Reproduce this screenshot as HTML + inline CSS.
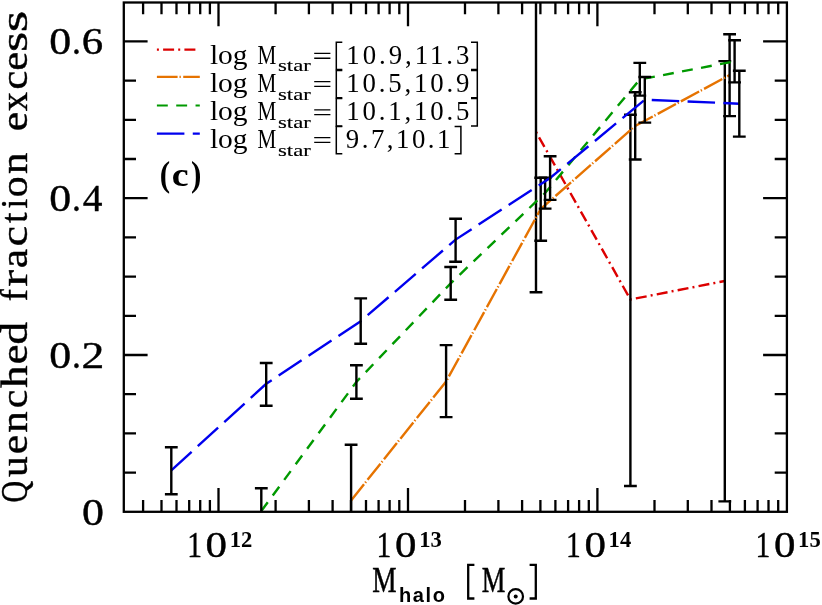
<!DOCTYPE html>
<html><head><meta charset="utf-8"><title>chart</title>
<style>html,body{margin:0;padding:0;background:#fff}svg{display:block;will-change:transform}text{font-family:"Liberation Serif",serif;fill:#000}.sb{font-family:"Liberation Sans",sans-serif;font-weight:bold}</style></head>
<body>
<svg width="822" height="605" viewBox="0 0 822 605">
<rect width="822" height="605" fill="#fff"/>
<path d="M143.1 511.8v-11.8M143.1 2.5v11.8M161.5 511.8v-11.8M161.5 2.5v11.8M176.5 511.8v-11.8M176.5 2.5v11.8M189.2 511.8v-11.8M189.2 2.5v11.8M200.2 511.8v-11.8M200.2 2.5v11.8M209.9 511.8v-11.8M209.9 2.5v11.8M218.5 511.8v-23.8M218.5 2.5v23.8M275.6 511.8v-11.8M275.6 2.5v11.8M308.9 511.8v-11.8M308.9 2.5v11.8M332.6 511.8v-11.8M332.6 2.5v11.8M351.0 511.8v-11.8M351.0 2.5v11.8M366.0 511.8v-11.8M366.0 2.5v11.8M378.6 511.8v-11.8M378.6 2.5v11.8M389.6 511.8v-11.8M389.6 2.5v11.8M399.3 511.8v-11.8M399.3 2.5v11.8M408.0 511.8v-23.8M408.0 2.5v23.8M465.0 511.8v-11.8M465.0 2.5v11.8M498.4 511.8v-11.8M498.4 2.5v11.8M522.1 511.8v-11.8M522.1 2.5v11.8M540.4 511.8v-11.8M540.4 2.5v11.8M555.4 511.8v-11.8M555.4 2.5v11.8M568.1 511.8v-11.8M568.1 2.5v11.8M579.1 511.8v-11.8M579.1 2.5v11.8M588.8 511.8v-11.8M588.8 2.5v11.8M597.4 511.8v-23.8M597.4 2.5v23.8M654.5 511.8v-11.8M654.5 2.5v11.8M687.8 511.8v-11.8M687.8 2.5v11.8M711.5 511.8v-11.8M711.5 2.5v11.8M729.9 511.8v-11.8M729.9 2.5v11.8M744.9 511.8v-11.8M744.9 2.5v11.8M757.6 511.8v-11.8M757.6 2.5v11.8M768.5 511.8v-11.8M768.5 2.5v11.8M778.2 511.8v-11.8M778.2 2.5v11.8M123.8 472.6h12.2M786.9 472.6h-12.2M123.8 433.4h12.2M786.9 433.4h-12.2M123.8 394.2h12.2M786.9 394.2h-12.2M123.8 355.0h23.8M786.9 355.0h-23.8M123.8 315.8h12.2M786.9 315.8h-12.2M123.8 276.6h12.2M786.9 276.6h-12.2M123.8 237.4h12.2M786.9 237.4h-12.2M123.8 198.2h23.8M786.9 198.2h-23.8M123.8 159.0h12.2M786.9 159.0h-12.2M123.8 119.8h12.2M786.9 119.8h-12.2M123.8 80.6h12.2M786.9 80.6h-12.2M123.8 41.4h23.8M786.9 41.4h-23.8" stroke="#000" stroke-width="2.3" fill="none"/>
<polyline points="536,131.9 630.4,299.5 724.8,281" stroke="#dc0000" stroke-width="2.4" stroke-dasharray="2 4.2 11 4.1" stroke-dashoffset="0" fill="none"/>
<path d="M536 2.5V292.2M529.6 292.2h12.8M630.4 114.7V486M624.0 114.7h12.8M624.0 486h12.8M724.8 61.1V501.4M718.4 61.1h12.8M718.4 501.4h12.8" stroke="#000" stroke-width="2.4" fill="none"/>
<polyline points="351.1,500.4 446.1,381.5 540.7,209 635.2,126 729.6,75.1" stroke="#e67300" stroke-width="2.4" stroke-dasharray="20.7 1.9 1.3 2.43" stroke-dashoffset="0" fill="none"/>
<path d="M351.1 444.8V511.8M344.7 444.8h12.8M446.1 345.1V417.1M439.7 345.1h12.8M439.7 417.1h12.8M540.7 177.7V240.8M534.3 177.7h12.8M534.3 240.8h12.8M635.2 92.3V159.5M628.8 92.3h12.8M628.8 159.5h12.8M729.6 34.2V116.1M723.2 34.2h12.8M723.2 116.1h12.8" stroke="#000" stroke-width="2.4" fill="none"/>
<polyline points="261.3,511 356.4,381.9 450.7,283.3 545.1,193 639.8,79.5 734.6,61.4" stroke="#009900" stroke-width="2.4" stroke-dasharray="10.9 8.42" stroke-dashoffset="0" fill="none"/>
<path d="M261.3 488.2V511.8M254.9 488.2h12.8M356.4 365.2V398.8M350.0 365.2h12.8M350.0 398.8h12.8M450.7 267V299.7M444.3 267h12.8M444.3 299.7h12.8M545.1 177.7V208.6M538.7 177.7h12.8M538.7 208.6h12.8M639.8 62.9V95.6M633.4 62.9h12.8M633.4 95.6h12.8M734.6 40.3V82.4M728.2 40.3h12.8M728.2 82.4h12.8" stroke="#000" stroke-width="2.4" fill="none"/>
<polyline points="171.3,470.4 266.2,383.8 360.7,321.2 455.6,239.6 550.1,178 644.8,99.7 739.3,103.7" stroke="#0000ee" stroke-width="2.4" stroke-dasharray="27.5 8.36" stroke-dashoffset="0" fill="none"/>
<path d="M171.3 447.3V494.3M164.9 447.3h12.8M164.9 494.3h12.8M266.2 363V405.8M259.8 363h12.8M259.8 405.8h12.8M360.7 298.4V343.7M354.3 298.4h12.8M354.3 343.7h12.8M455.6 218.7V261.7M449.2 218.7h12.8M449.2 261.7h12.8M550.1 156.2V199.9M543.7 156.2h12.8M543.7 199.9h12.8M644.8 77V122.6M638.4 77h12.8M638.4 122.6h12.8M739.3 70.7V136.6M732.9 70.7h12.8M732.9 136.6h12.8" stroke="#000" stroke-width="2.4" fill="none"/>
<rect x="123.8" y="2.5" width="663.1" height="509.3" stroke="#000" stroke-width="2.3" fill="none"/>
<path d="M156.9 49.6H198" stroke="#dc0000" stroke-width="2.2" stroke-dasharray="2 4.2 11 4.1" fill="none"/>
<path d="M156.9 76.8H199.8" stroke="#e67300" stroke-width="2.2" stroke-dasharray="20.7 1.9 1.3 2.43" fill="none"/>
<path d="M156.9 105.5H199.8" stroke="#009900" stroke-width="2.2" stroke-dasharray="10.9 8.42" fill="none"/>
<path d="M156.9 133.7H199.8" stroke="#0000ee" stroke-width="2.2" stroke-dasharray="27.5 8.36" fill="none"/>
<text x="209.9" y="63.8" font-size="26.5" textLength="37.7" lengthAdjust="spacingAndGlyphs">log</text>
<text x="257.6" y="63.8" font-size="26.5" textLength="18.8" lengthAdjust="spacingAndGlyphs">M</text>
<text x="278" y="71.39999999999999" font-size="16.7" stroke="#000" stroke-width="0.15" textLength="32.8" lengthAdjust="spacingAndGlyphs">star</text>
<path d="M314.2 53.4h16.2M314.2 58.199999999999996h16.2" stroke="#000" stroke-width="1.35" fill="none"/>
<path d="M342.3 42.199999999999996h-6v27.4h6M471 42.199999999999996h6.3v27.4h-6.3" stroke="#000" stroke-width="1.5" fill="none"/>
<text x="346.3" y="63.8" font-size="26.8" textLength="123.1" lengthAdjust="spacing">10.9,11.3</text>
<text x="209.9" y="92.0" font-size="26.5" textLength="37.7" lengthAdjust="spacingAndGlyphs">log</text>
<text x="257.6" y="92.0" font-size="26.5" textLength="18.8" lengthAdjust="spacingAndGlyphs">M</text>
<text x="278" y="99.6" font-size="16.7" stroke="#000" stroke-width="0.15" textLength="32.8" lengthAdjust="spacingAndGlyphs">star</text>
<path d="M314.2 81.6h16.2M314.2 86.4h16.2" stroke="#000" stroke-width="1.35" fill="none"/>
<path d="M342.3 70.4h-6v27.4h6M471 70.4h6.3v27.4h-6.3" stroke="#000" stroke-width="1.5" fill="none"/>
<text x="346.3" y="92.0" font-size="26.8" textLength="123.1" lengthAdjust="spacing">10.5,10.9</text>
<text x="209.9" y="120.2" font-size="26.5" textLength="37.7" lengthAdjust="spacingAndGlyphs">log</text>
<text x="257.6" y="120.2" font-size="26.5" textLength="18.8" lengthAdjust="spacingAndGlyphs">M</text>
<text x="278" y="127.8" font-size="16.7" stroke="#000" stroke-width="0.15" textLength="32.8" lengthAdjust="spacingAndGlyphs">star</text>
<path d="M314.2 109.8h16.2M314.2 114.60000000000001h16.2" stroke="#000" stroke-width="1.35" fill="none"/>
<path d="M342.3 98.6h-6v27.4h6M471 98.6h6.3v27.4h-6.3" stroke="#000" stroke-width="1.5" fill="none"/>
<text x="346.3" y="120.2" font-size="26.8" textLength="123.1" lengthAdjust="spacing">10.1,10.5</text>
<text x="209.9" y="148.0" font-size="26.5" textLength="37.7" lengthAdjust="spacingAndGlyphs">log</text>
<text x="257.6" y="148.0" font-size="26.5" textLength="18.8" lengthAdjust="spacingAndGlyphs">M</text>
<text x="278" y="155.6" font-size="16.7" stroke="#000" stroke-width="0.15" textLength="32.8" lengthAdjust="spacingAndGlyphs">star</text>
<path d="M314.2 137.6h16.2M314.2 142.4h16.2" stroke="#000" stroke-width="1.35" fill="none"/>
<path d="M342.3 126.4h-6v27.4h6M454.6 126.4h6.3v27.4h-6.3" stroke="#000" stroke-width="1.5" fill="none"/>
<text x="345.8" y="148.0" font-size="26.8" textLength="104.6" lengthAdjust="spacing">9.7,10.1</text>
<text transform="translate(161.20 185.6) scale(0.890 1)" x="-1.54" font-size="35" font-weight="bold">(</text>
<text transform="translate(173.10 186.3) scale(1.150 1)" x="-1.13" font-size="33" font-weight="bold">c</text>
<text transform="translate(191.90 185.6) scale(0.890 1)" x="-1.13" font-size="35" font-weight="bold">)</text>
<text transform="translate(51.00 54.4) scale(1.186 1)" x="-1.41" font-size="37" stroke="#000" stroke-width="0.4">0</text>
<text transform="translate(74.30 54.4) scale(0.961 1)" x="-2.44" font-size="37" stroke="#000" stroke-width="0.4">.</text>
<text transform="translate(83.60 54.4) scale(1.158 1)" x="-1.59" font-size="37" stroke="#000" stroke-width="0.4">6</text>
<text transform="translate(51.00 211.2) scale(1.186 1)" x="-1.41" font-size="37" stroke="#000" stroke-width="0.4">0</text>
<text transform="translate(74.30 211.2) scale(0.961 1)" x="-2.44" font-size="37" stroke="#000" stroke-width="0.4">.</text>
<text transform="translate(83.60 211.2) scale(1.064 1)" x="-0.72" font-size="37" stroke="#000" stroke-width="0.4">4</text>
<text transform="translate(51.00 368.0) scale(1.186 1)" x="-1.41" font-size="37" stroke="#000" stroke-width="0.4">0</text>
<text transform="translate(74.30 368.0) scale(0.961 1)" x="-2.44" font-size="37" stroke="#000" stroke-width="0.4">.</text>
<text transform="translate(83.60 368.0) scale(1.234 1)" x="-1.63" font-size="37" stroke="#000" stroke-width="0.4">2</text>
<text transform="translate(83.60 524.8) scale(1.186 1)" x="-1.41" font-size="37" stroke="#000" stroke-width="0.4">0</text>
<text transform="translate(189.73 557.2) scale(0.805 1)" x="-3.23" font-size="36.7" stroke="#000" stroke-width="0.4">1</text>
<text transform="translate(207.23 557.2) scale(1.170 1)" x="-1.40" font-size="36.7" stroke="#000" stroke-width="0.4">0</text>
<text x="229.7" y="547" font-size="23.5" font-weight="bold" textLength="22.6" lengthAdjust="spacingAndGlyphs">12</text>
<text transform="translate(379.19 557.2) scale(0.805 1)" x="-3.23" font-size="36.7" stroke="#000" stroke-width="0.4">1</text>
<text transform="translate(396.69 557.2) scale(1.170 1)" x="-1.40" font-size="36.7" stroke="#000" stroke-width="0.4">0</text>
<text x="419.2" y="547" font-size="23.5" font-weight="bold" textLength="22.6" lengthAdjust="spacingAndGlyphs">13</text>
<text transform="translate(568.64 557.2) scale(0.805 1)" x="-3.23" font-size="36.7" stroke="#000" stroke-width="0.4">1</text>
<text transform="translate(586.14 557.2) scale(1.170 1)" x="-1.40" font-size="36.7" stroke="#000" stroke-width="0.4">0</text>
<text x="608.6" y="547" font-size="23.5" font-weight="bold" textLength="22.6" lengthAdjust="spacingAndGlyphs">14</text>
<text transform="translate(758.10 557.2) scale(0.805 1)" x="-3.23" font-size="36.7" stroke="#000" stroke-width="0.4">1</text>
<text transform="translate(775.60 557.2) scale(1.170 1)" x="-1.40" font-size="36.7" stroke="#000" stroke-width="0.4">0</text>
<text x="798.1" y="547" font-size="23.5" font-weight="bold" textLength="22.6" lengthAdjust="spacingAndGlyphs">15</text>
<text x="372.2" y="592.3" font-size="35.6" stroke="#000" stroke-width="0.5" textLength="24.3" lengthAdjust="spacingAndGlyphs">M</text>
<text class="sb" x="399" y="602" font-size="20" textLength="46" lengthAdjust="spacing">halo</text>
<path d="M474.4 564.9h-6.2v33.6h6.2M529.6 564.9h6.2v33.6h-6.2" stroke="#000" stroke-width="2.3" fill="none"/>
<text x="481.7" y="592.3" font-size="35.6" stroke="#000" stroke-width="0.5" textLength="23.6" lengthAdjust="spacingAndGlyphs">M</text>
<circle cx="515.7" cy="596.4" r="7.3" stroke="#000" stroke-width="2.2" fill="none"/><circle cx="515.7" cy="596.4" r="2" fill="#000"/>
<text transform="translate(26.8 501.2) rotate(-90) scale(0.789 1)" x="-1.56" font-size="38" stroke="#000" stroke-width="0.4">Q</text>
<text transform="translate(26.8 476.4) rotate(-90) scale(1.087 1)" x="-0.50" font-size="38" stroke="#000" stroke-width="0.4">u</text>
<text transform="translate(26.8 452.6) rotate(-90) scale(1.166 1)" x="-1.48" font-size="38" stroke="#000" stroke-width="0.4">e</text>
<text transform="translate(26.8 431.7) rotate(-90) scale(1.128 1)" x="-0.87" font-size="38" stroke="#000" stroke-width="0.4">n</text>
<text transform="translate(26.8 406.7) rotate(-90) scale(1.102 1)" x="-1.45" font-size="38" stroke="#000" stroke-width="0.4">c</text>
<text transform="translate(26.8 387.7) rotate(-90) scale(1.186 1)" x="-0.37" font-size="38" stroke="#000" stroke-width="0.4">h</text>
<text transform="translate(26.8 362.6) rotate(-90) scale(1.180 1)" x="-1.48" font-size="38" stroke="#000" stroke-width="0.4">e</text>
<text transform="translate(26.8 343) rotate(-90) scale(1.200 1)" x="-1.37" font-size="38" stroke="#000" stroke-width="0.4">d</text>
<text transform="translate(26.8 300.1) rotate(-90) scale(0.958 1)" x="-1.17" font-size="38" stroke="#000" stroke-width="0.4">f</text>
<text transform="translate(26.8 285.7) rotate(-90) scale(1.332 1)" x="-0.76" font-size="38" stroke="#000" stroke-width="0.4">r</text>
<text transform="translate(26.8 266.8) rotate(-90) scale(1.153 1)" x="-1.34" font-size="38" stroke="#000" stroke-width="0.4">a</text>
<text transform="translate(26.8 244.8) rotate(-90) scale(1.221 1)" x="-1.45" font-size="38" stroke="#000" stroke-width="0.4">c</text>
<text transform="translate(26.8 222.6) rotate(-90) scale(0.994 1)" x="-0.37" font-size="38" stroke="#000" stroke-width="0.4">t</text>
<text transform="translate(26.8 207.8) rotate(-90) scale(0.919 1)" x="-0.80" font-size="38" stroke="#000" stroke-width="0.4">i</text>
<text transform="translate(26.8 195.9) rotate(-90) scale(1.130 1)" x="-1.45" font-size="38" stroke="#000" stroke-width="0.4">o</text>
<text transform="translate(26.8 173) rotate(-90) scale(1.128 1)" x="-0.87" font-size="38" stroke="#000" stroke-width="0.4">n</text>
<text transform="translate(26.8 129.6) rotate(-90) scale(1.152 1)" x="-1.48" font-size="38" stroke="#000" stroke-width="0.4">e</text>
<text transform="translate(26.8 111) rotate(-90) scale(1.011 1)" x="-0.33" font-size="38" stroke="#000" stroke-width="0.4">x</text>
<text transform="translate(26.8 88) rotate(-90) scale(1.137 1)" x="-1.45" font-size="38" stroke="#000" stroke-width="0.4">c</text>
<text transform="translate(26.8 69) rotate(-90) scale(1.123 1)" x="-1.48" font-size="38" stroke="#000" stroke-width="0.4">e</text>
<text transform="translate(26.8 49.8) rotate(-90) scale(1.366 1)" x="-1.56" font-size="38" stroke="#000" stroke-width="0.4">s</text>
<text transform="translate(26.8 30) rotate(-90) scale(1.459 1)" x="-1.56" font-size="38" stroke="#000" stroke-width="0.4">s</text>
</svg>
</body></html>
